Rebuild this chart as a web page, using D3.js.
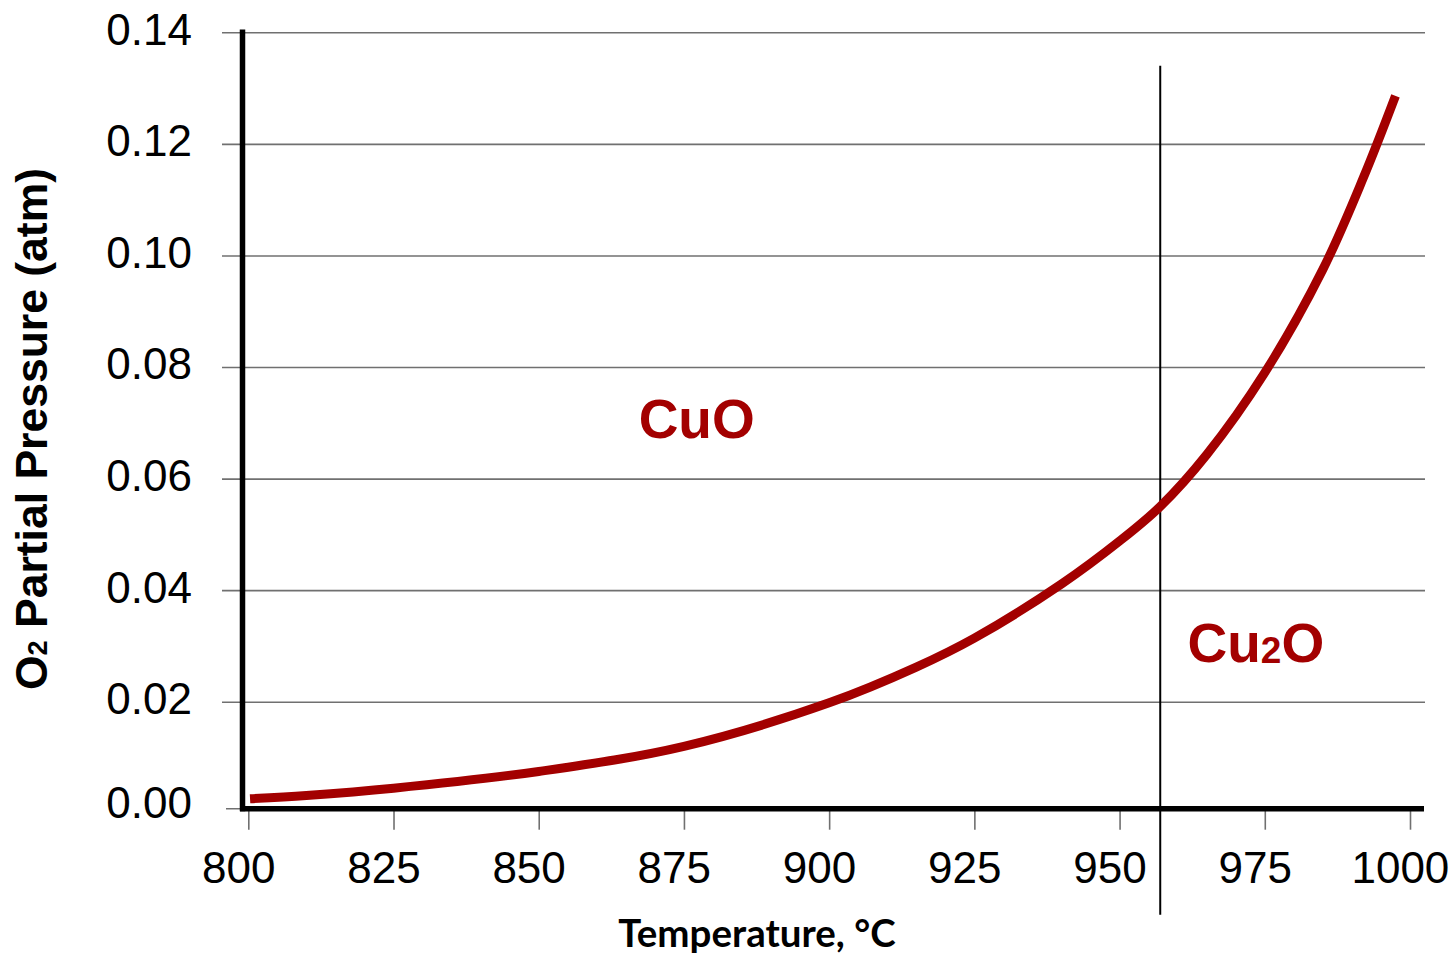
<!DOCTYPE html>
<html>
<head>
<meta charset="utf-8">
<title>Cu–O phase boundary</title>
<script src="https://cdn.jsdelivr.net/npm/d3@7"></script>
<style>
  html, body { margin: 0; padding: 0; background: #fff; }
  svg { display: block; }
  .tick text { font-family: "Liberation Sans", Arial, sans-serif; font-size: 44px; fill: #000; }
</style>
</head>
<body>
<svg id="chart" width="1452" height="957"></svg>
<script>
// Equilibrium O2 partial pressure over CuO / Cu2O vs temperature
const temperatures = [800.3, 810, 825, 850, 875, 900, 915, 925, 940, 950, 957, 965, 975, 985, 992, 997.5];
const pressures    = [0.0026, 0.0032, 0.0045, 0.0075, 0.0120, 0.0198, 0.0262, 0.0314, 0.0411, 0.0488, 0.0550, 0.0643, 0.0790, 0.0975, 0.1140, 0.1286];

const xTicks = [800, 825, 850, 875, 900, 925, 950, 975, 1000];
const yTicks = [0.02, 0.04, 0.06, 0.08, 0.10, 0.12, 0.14];
const yBaseTick = 0.00;

// temperature where the stable oxide changes
const transitionTemp = 957;
const transitionTop = 0.134;

const phaseLabels = [
  { base: "CuO", sub: "", tail: "", t: 867.2, p: 0.0672 },
  { base: "Cu", sub: "2", tail: "O", t: 961.7, p: 0.0272 }
];

const svg = d3.select("#chart");
const red = "#a30000";
const grid = "#707070";

const x = d3.scaleLinear().domain([800, 1000]).range([248.3, 1410]);
const y = d3.scaleLinear().domain([0, 0.14]).range([813.3, 32.3]);

const gridLeft = 222, gridRight = 1425;
const axisX = 242.5;          // vertical axis position
const axisY = y(0) - 4.6;     // horizontal axis position

// horizontal gridlines + y tick labels
const yAxis = d3.axisLeft(y)
  .tickValues(yTicks)
  .tickFormat(d3.format(".2f"))
  .tickSize(-(gridRight - gridLeft))
  .tickPadding(30);

const gy = svg.append("g")
  .attr("transform", `translate(${gridLeft},0)`)
  .call(yAxis);
gy.select(".domain").remove();
gy.selectAll(".tick line").attr("stroke", grid).attr("stroke-width", 1.6);
gy.selectAll(".tick text").attr("dy", "0.27em");

// zero tick + label sit on the horizontal axis
svg.append("line")
  .attr("x1", gridLeft + 4).attr("x2", axisX + 18)
  .attr("y1", axisY).attr("y2", axisY)
  .attr("stroke", grid).attr("stroke-width", 1.6);
svg.append("text")
  .attr("x", gridLeft - 30).attr("y", axisY + 9)
  .attr("text-anchor", "end")
  .style("font-family", '"Liberation Sans", Arial, sans-serif')
  .style("font-size", "44px")
  .text(d3.format(".2f")(yBaseTick));

// x ticks + labels
const xAxis = d3.axisBottom(x)
  .tickValues(xTicks)
  .tickFormat(d3.format("d"))
  .tickSize(21)
  .tickPadding(22);

const gx = svg.append("g")
  .attr("transform", `translate(0,${axisY})`)
  .call(xAxis);
gx.select(".domain").remove();
gx.selectAll(".tick line").attr("stroke", grid).attr("stroke-width", 1.6);
gx.selectAll(".tick text").attr("dx", "-0.23em");

// thick axis lines
svg.append("line")
  .attr("x1", axisX).attr("x2", axisX)
  .attr("y1", y(0.1405)).attr("y2", axisY + 2.5)
  .attr("stroke", "#000").attr("stroke-width", 5.5);
svg.append("line")
  .attr("x1", axisX - 2.5).attr("x2", x(1000) + 14)
  .attr("y1", axisY).attr("y2", axisY)
  .attr("stroke", "#000").attr("stroke-width", 5.5);

// phase boundary marker
svg.append("line")
  .attr("x1", x(transitionTemp)).attr("x2", x(transitionTemp))
  .attr("y1", y(transitionTop)).attr("y2", axisY + 106)
  .attr("stroke", "#000").attr("stroke-width", 2);

// equilibrium curve
const line = d3.line()
  .x((d, i) => x(temperatures[i]))
  .y(d => y(d))
  .curve(d3.curveCatmullRom.alpha(0.5));

svg.append("path")
  .datum(pressures)
  .attr("d", line)
  .attr("fill", "none")
  .attr("stroke", red)
  .attr("stroke-width", 9)
  .attr("stroke-linecap", "butt");

// phase labels
phaseLabels.forEach(l => {
  const t = svg.append("text")
    .attr("x", x(l.t)).attr("y", y(l.p))
    .style("font-family", '"Liberation Sans", Arial, sans-serif')
    .style("font-weight", "bold")
    .style("font-size", "55px")
    .attr("fill", red);
  t.append("tspan").text(l.base);
  if (l.sub) {
    t.append("tspan").style("font-size", "37px").attr("dy", 1).text(l.sub);
    t.append("tspan").attr("dy", -1).text(l.tail);
  }
});

// axis titles
svg.append("text")
  .attr("x", 757).attr("y", 947)
  .attr("text-anchor", "middle")
  .style("font-family", "Lato, 'Open Sans', sans-serif")
  .style("font-weight", "bold")
  .style("font-size", "38.5px")
  .text("Temperature, °C");

const yt = svg.append("text")
  .attr("transform", "translate(47,429) rotate(-90)")
  .attr("text-anchor", "middle")
  .style("font-family", '"Liberation Sans", Arial, sans-serif')
  .style("font-weight", "bold")
  .style("font-size", "44.5px");
yt.append("tspan").text("O");
yt.append("tspan").style("font-size", "27px").text("2");
yt.append("tspan").text(" Partial Pressure (atm)");
</script>
</body>
</html>
